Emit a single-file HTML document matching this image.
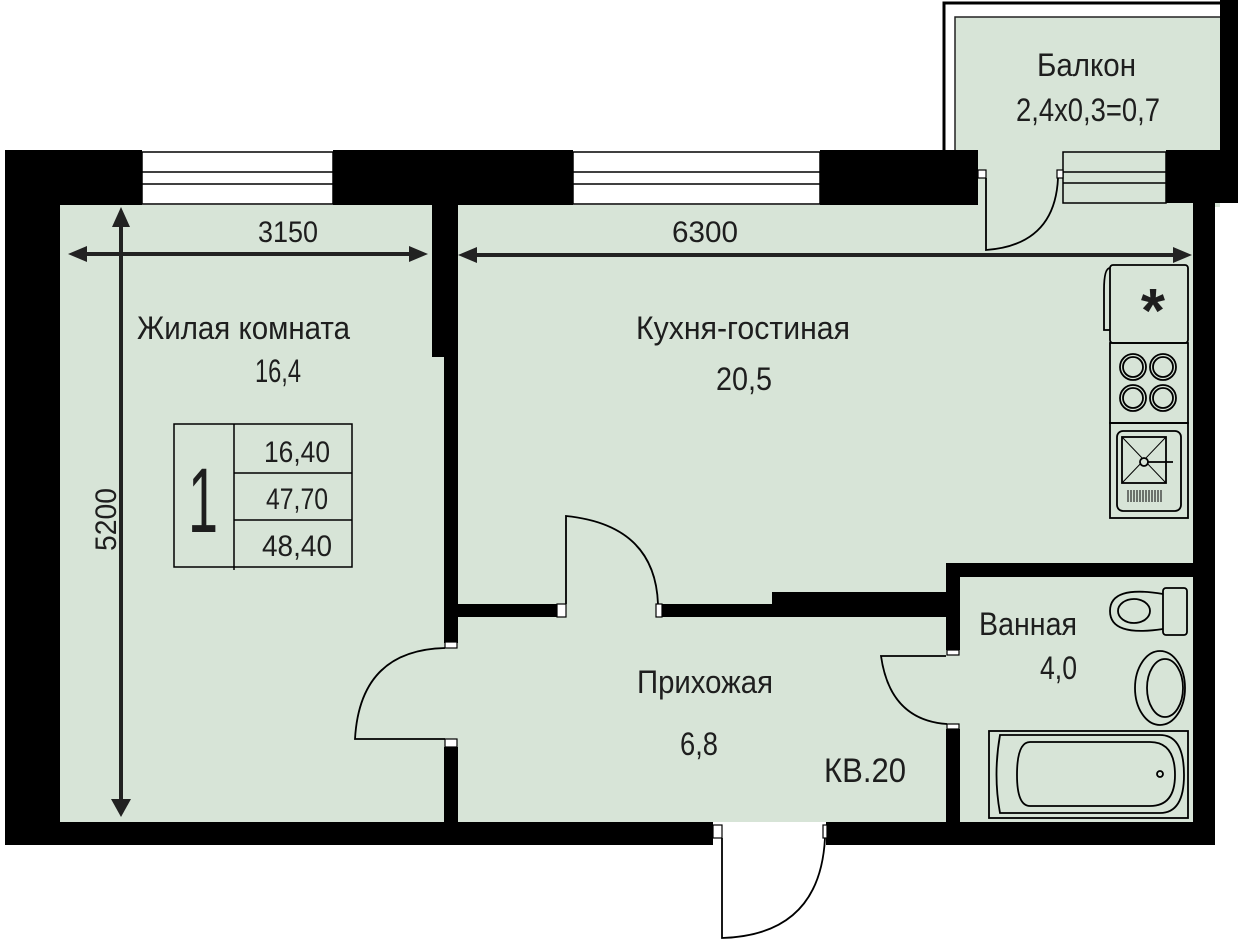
<!DOCTYPE html>
<html><head><meta charset="utf-8"><style>
html,body{margin:0;padding:0;background:#fff;}
svg{display:block;}
text{font-family:"Liberation Sans Narrow","Liberation Sans",sans-serif;fill:#1e1e1e;}
</style></head><body>
<svg width="1238" height="951" viewBox="0 0 1238 951" xmlns="http://www.w3.org/2000/svg">
<rect x="60" y="205" width="1133" height="617" fill="#d7e4d7"/>
<rect x="955" y="17" width="265" height="190" fill="#d7e4d7"/>
<path d="M944 150 V3 H1222" fill="none" stroke="#000" stroke-width="3"/>
<path d="M955 150 V17 H1222" fill="none" stroke="#222" stroke-width="1.5"/>
<rect x="1220" y="0" width="18" height="203" fill="#000"/>
<rect x="5" y="150" width="137" height="55" fill="#000"/>
<rect x="333" y="150" width="240" height="55" fill="#000"/>
<rect x="820" y="150" width="158" height="55" fill="#000"/>
<rect x="1166" y="150" width="72" height="53" fill="#000"/>
<g fill="#fff" stroke="#000" stroke-width="1.5">
<rect x="142" y="152" width="191" height="52"/>
<rect x="573" y="152" width="247" height="52"/>
<rect x="1063" y="152" width="103" height="51" fill="#d7e4d7"/>
</g>
<g stroke="#000" stroke-width="1.5">
<line x1="142" y1="172" x2="333" y2="172"/><line x1="142" y1="184" x2="333" y2="184"/>
<line x1="573" y1="172" x2="820" y2="172"/><line x1="573" y1="184" x2="820" y2="184"/>
<line x1="1063" y1="172" x2="1166" y2="172"/><line x1="1063" y1="183" x2="1166" y2="183"/>
</g>
<g fill="#fff" stroke="#000" stroke-width="1.2">
<rect x="978" y="170" width="8" height="8"/><rect x="1057" y="170" width="6" height="8"/>
</g>
<path d="M986 178 V250 Q1055 245 1058 178" fill="none" stroke="#000" stroke-width="1.8"/>
<rect x="5" y="150" width="55" height="695" fill="#000"/>
<rect x="1193" y="203" width="22" height="642" fill="#000"/>
<rect x="5" y="822" width="708" height="23" fill="#000"/>
<rect x="826" y="822" width="389" height="23" fill="#000"/>
<rect x="432" y="205" width="26" height="152" fill="#000"/>
<rect x="444" y="205" width="14" height="438" fill="#000"/>
<rect x="444" y="747" width="14" height="75" fill="#000"/>
<rect x="458" y="604" width="99" height="13" fill="#000"/>
<rect x="662" y="604" width="286" height="13" fill="#000"/>
<rect x="772" y="592" width="176" height="25" fill="#000"/>
<rect x="946" y="563" width="14" height="87" fill="#000"/>
<rect x="946" y="563" width="247" height="14" fill="#000"/>
<rect x="946" y="729" width="14" height="93" fill="#000"/>
<g fill="#fff" stroke="#000" stroke-width="1.2">
<rect x="445" y="642" width="12" height="6"/><rect x="445" y="739" width="12" height="8"/>
<rect x="557" y="604" width="9" height="13"/><rect x="656" y="604" width="6" height="13"/>
<rect x="947" y="650" width="12" height="5"/><rect x="947" y="724" width="12" height="5"/>
<rect x="713" y="825" width="9" height="13"/><rect x="823" y="825" width="4" height="13"/>
</g>
<g fill="none" stroke="#000" stroke-width="1.8">
<path d="M445 648 Q360 650 355 739 H445"/>
<path d="M566 604 V516 Q655 525 658 604"/>
<path d="M946 656 H881 Q890 720 947 724"/>
<path d="M722 838 V938 Q820 935 825 838"/>
</g>
<g stroke="#222" stroke-width="4" fill="#222">
<line x1="80" y1="254" x2="415" y2="254"/>
<line x1="472" y1="255" x2="1180" y2="255"/>
<line x1="121" y1="222" x2="121" y2="805"/>
</g>
<g fill="#222">
<polygon points="68,254 87,246 87,262"/><polygon points="428,254 409,246 409,262"/>
<polygon points="458,255 477,247 477,263"/><polygon points="1192,255 1173,247 1173,263"/>
<polygon points="121,207 112,227 130,227"/><polygon points="121,817 111,799 131,799"/>
</g>
<g fill="none" stroke="#000" stroke-width="1.8">
<rect x="1110" y="265" width="78" height="78" rx="3"/>
<path d="M1110 268 Q1104 268 1104 290 V330 H1110"/>
<rect x="1110" y="343" width="78" height="80"/>
<rect x="1110" y="423" width="78" height="95"/>
<rect x="1117" y="431" width="64" height="80" rx="6"/>
<rect x="1122" y="437" width="44" height="46"/>
<line x1="1122" y1="437" x2="1166" y2="483" stroke-width="1"/>
<line x1="1166" y1="437" x2="1122" y2="483" stroke-width="1"/>
<line x1="1148" y1="462" x2="1173" y2="462"/>
<circle cx="1144" cy="462" r="4" fill="#d7e4d7"/>
<circle cx="1133" cy="367" r="13"/><circle cx="1133" cy="367" r="10"/>
<circle cx="1163" cy="367" r="13"/><circle cx="1163" cy="367" r="10"/>
<circle cx="1133" cy="398" r="13"/><circle cx="1133" cy="398" r="10"/>
<circle cx="1163" cy="398" r="13"/><circle cx="1163" cy="398" r="10"/>
</g>
<g stroke="#000" stroke-width="1">
<path d="M1128 490 v12 M1131 490 v12 M1134 490 v12 M1137 490 v12 M1140 490 v12 M1143 490 v12 M1146 490 v12 M1149 490 v12 M1152 490 v12 M1155 490 v12 M1158 490 v12 M1161 490 v12"/>
</g>
<text x="1153" y="332" font-size="62" text-anchor="middle" font-weight="bold">*</text>
<g fill="none" stroke="#000" stroke-width="1.8">
<rect x="1163" y="588" width="24" height="47" rx="3"/>
<path d="M1163 594 Q1110 585 1110 611 Q1110 637 1163 629"/>
<ellipse cx="1134" cy="611" rx="16" ry="12"/>
<ellipse cx="1160" cy="688" rx="25" ry="37"/>
<ellipse cx="1165" cy="688" rx="18" ry="29"/>
<rect x="989" y="731" width="199" height="87"/>
<path d="M1000 735 H1160 Q1184 735 1184 775 Q1184 813 1160 813 H1000 Q993 775 1000 735Z"/>
<path d="M1030 742 H1150 Q1175 742 1175 775 Q1175 806 1150 806 H1030 Q1017 806 1017 775 Q1017 742 1030 742Z"/>
<circle cx="1160" cy="774" r="3"/>
</g>
<g fill="none" stroke="#000" stroke-width="1.5">
<rect x="174" y="424" width="178" height="143"/>
<line x1="234" y1="424" x2="234" y2="570"/>
<line x1="234" y1="473" x2="352" y2="473"/>
<line x1="234" y1="520" x2="352" y2="520"/>
</g>
<text x="258" y="242" font-size="30" textLength="60" lengthAdjust="spacingAndGlyphs">3150</text>
<text x="672" y="242" font-size="30" textLength="66" lengthAdjust="spacingAndGlyphs">6300</text>
<text x="137" y="339" font-size="32" textLength="213" lengthAdjust="spacingAndGlyphs">Жилая комната</text>
<text x="255" y="382" font-size="32" textLength="46" lengthAdjust="spacingAndGlyphs">16,4</text>
<text x="636" y="339" font-size="32" textLength="214" lengthAdjust="spacingAndGlyphs">Кухня-гостиная</text>
<text x="716" y="390" font-size="32" textLength="56" lengthAdjust="spacingAndGlyphs">20,5</text>
<text x="1037" y="76" font-size="32" textLength="99" lengthAdjust="spacingAndGlyphs">Балкон</text>
<text x="1016" y="121" font-size="32" textLength="144" lengthAdjust="spacingAndGlyphs">2,4x0,3=0,7</text>
<text x="979" y="635" font-size="32" textLength="98" lengthAdjust="spacingAndGlyphs">Ванная</text>
<text x="1040" y="679" font-size="32" textLength="37" lengthAdjust="spacingAndGlyphs">4,0</text>
<text x="637" y="693" font-size="32" textLength="136" lengthAdjust="spacingAndGlyphs">Прихожая</text>
<text x="680" y="755" font-size="32" textLength="38" lengthAdjust="spacingAndGlyphs">6,8</text>
<text x="824" y="782" font-size="34" textLength="82" lengthAdjust="spacingAndGlyphs">КВ.20</text>
<text x="264" y="462" font-size="30" textLength="66" lengthAdjust="spacingAndGlyphs">16,40</text>
<text x="266" y="509" font-size="30" textLength="62" lengthAdjust="spacingAndGlyphs">47,70</text>
<text x="262" y="556" font-size="30" textLength="70" lengthAdjust="spacingAndGlyphs">48,40</text>
<text x="188" y="532" font-size="92" textLength="30" lengthAdjust="spacingAndGlyphs">1</text>
<text transform="translate(116,551) rotate(-90)" font-size="30" textLength="63" lengthAdjust="spacingAndGlyphs">5200</text>
</svg>
</body></html>
